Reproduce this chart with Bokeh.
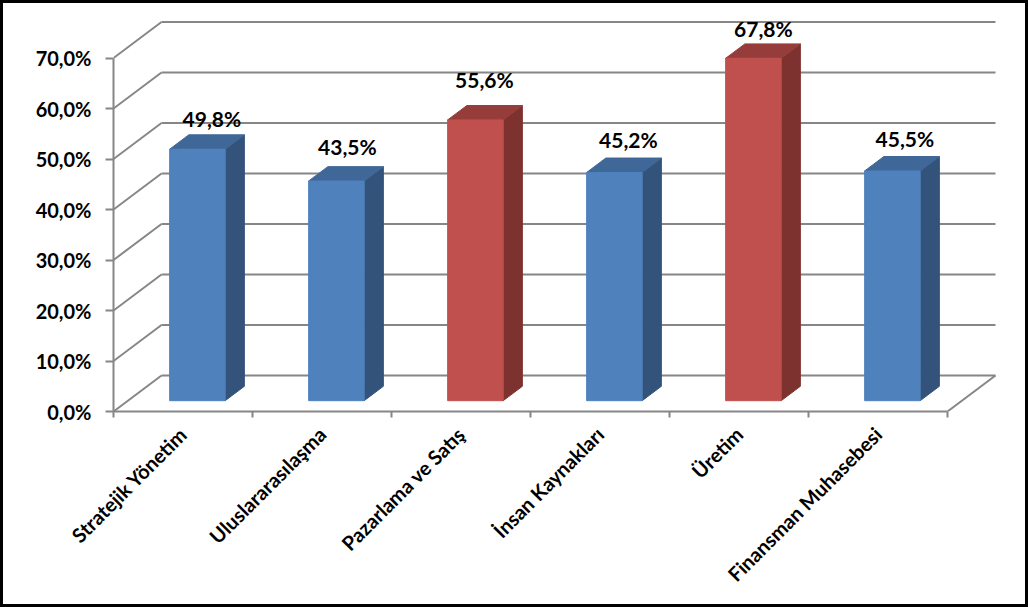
from bokeh.plotting import figure
from bokeh.models import ColumnDataSource, FixedTicker, Range1d, InlineStyleSheet
from bokeh.core.properties import value
from bokeh.embed import file_html
from bokeh.resources import INLINE

categories = ["Stratejik Yönetim", "Uluslararasılaşma", "Pazarlama ve Satış",
              "İnsan Kaynakları", "Üretim", "Finansman Muhasebesi"]
values = [49.8, 43.5, 55.6, 45.2, 67.8, 45.5]
value_labels = ["49,8%", "43,5%", "55,6%", "45,2%", "67,8%", "45,5%"]
y_ticks = [0, 10, 20, 30, 40, 50, 60, 70]
y_tick_labels = ["0,0%", "10,0%", "20,0%", "30,0%", "40,0%", "50,0%", "60,0%", "70,0%"]
highlighted = [False, False, True, False, True, False]
label_dx = [14.5, 11, 9, 14, 10, 12.5]
label_lift = [4, 8, 14, 6, 3, 6]

W, H = 1028, 607
L, R, T, B = 113, 1000, 16, 411
PX_X = 139.0
PX_Y = 5.05
DX, DY = 48 / PX_X, 36 / PX_Y
BAR_W = 55.5 / PX_X
BAR_START = 0.3
BAR_DEPTH = 0.4
FRONT = {"b": ("#4F81BD", "#3F6797", "#33537A"), "r": ("#C0504D", "#963D3B", "#7D3230")}
GRID = "#868686"
FONT = "Lato"

p = figure(width=W, height=H, output_backend="svg", toolbar_location=None,
           x_range=Range1d(0, (R - L) / PX_X), y_range=Range1d(0, (B - T) / PX_Y),
           min_border_left=L, min_border_right=W - R, min_border_top=T, min_border_bottom=H - B)
p.background_fill_color = "white"
p.border_fill_color = "white"
p.outline_line_color = None
p.grid.visible = False
p.stylesheets = [InlineStyleSheet(css=":host::after{content:'';position:absolute;left:0;top:0;right:0;bottom:0;"
                                      "border:3px solid black;box-sizing:border-box;pointer-events:none;z-index:1000;}")]

n = len(categories)
# walls
for t in y_ticks:
    p.line([0, DX], [t, t + DY], line_color=GRID, line_width=2)
    p.line([DX, n + DX], [t + DY, t + DY], line_color=GRID, line_width=2)
p.line([n, n + DX], [0, DY], line_color=GRID, line_width=2)

# bars
cx = [i + 0.5 for i in range(n)]
f_xs, f_ys, t_xs, t_ys, s_xs, s_ys, c_f, c_t, c_s = [], [], [], [], [], [], [], [], []
for c, v, h in zip(cx, values, highlighted):
    x0 = c - BAR_W / 2 + BAR_START * DX
    x1 = x0 + BAR_W
    y0 = BAR_START * DY
    y1 = y0 + v
    ddx, ddy = BAR_DEPTH * DX, BAR_DEPTH * DY
    f_xs.append([x0, x1, x1, x0]); f_ys.append([y0, y0, y1, y1])
    t_xs.append([x0, x1, x1 + ddx, x0 + ddx]); t_ys.append([y1, y1, y1 + ddy, y1 + ddy])
    s_xs.append([x1, x1 + ddx, x1 + ddx, x1]); s_ys.append([y0, y0 + ddy, y1 + ddy, y1])
    fc, tc, sc = FRONT["r" if h else "b"]
    c_f.append(fc); c_t.append(tc); c_s.append(sc)
p.patches(s_xs, s_ys, fill_color=c_s, line_color=c_s, line_width=1)
p.patches(t_xs, t_ys, fill_color=c_t, line_color=c_t, line_width=1)
p.patches(f_xs, f_ys, fill_color=c_f, line_color=c_f, line_width=1)

# value labels
src = ColumnDataSource(dict(
    x=[c + BAR_START * DX for c in cx],
    y=[v + BAR_START * DY + BAR_DEPTH * DY for v in values],
    t=value_labels,
    ox=label_dx,
    oy=[-l for l in label_lift],
))
p.text("x", "y", text="t", source=src, x_offset="ox", y_offset="oy", text_align="center",
       text_baseline="bottom", text_font=value(FONT), text_font_size="21px",
       text_font_style="bold", text_color="black")

# axes
ya = p.yaxis[0]
ya.ticker = FixedTicker(ticks=y_ticks)
ya.major_label_overrides = dict(zip(y_ticks, y_tick_labels))
ya.bounds = (0, 70)
ya.axis_line_color = GRID; ya.axis_line_width = 2
ya.major_tick_line_color = GRID; ya.major_tick_line_width = 2
ya.major_tick_in = 0; ya.major_tick_out = 8; ya.minor_tick_out = 0; ya.minor_tick_in = 0
ya.major_label_standoff = 14
ya.major_label_text_font = FONT
ya.major_label_text_font_size = "20px"
ya.major_label_text_font_style = "bold"
ya.major_label_text_color = "black"

xa = p.xaxis[0]
xa.ticker = FixedTicker(ticks=cx, minor_ticks=list(range(n + 1)))
xa.major_label_overrides = dict(zip(cx, categories))
xa.bounds = (0, n)
xa.axis_line_color = GRID; xa.axis_line_width = 2
xa.major_tick_in = 0; xa.major_tick_out = 0
xa.minor_tick_line_color = GRID; xa.minor_tick_line_width = 2
xa.minor_tick_in = 0; xa.minor_tick_out = 6
xa.major_label_orientation = 0.785
xa.major_label_standoff = 13
xa.major_label_text_font = FONT
xa.major_label_text_font_size = "20px"
xa.major_label_text_font_style = "bold"
xa.major_label_text_color = "black"

open("out.html", "w").write(file_html(p, INLINE))
